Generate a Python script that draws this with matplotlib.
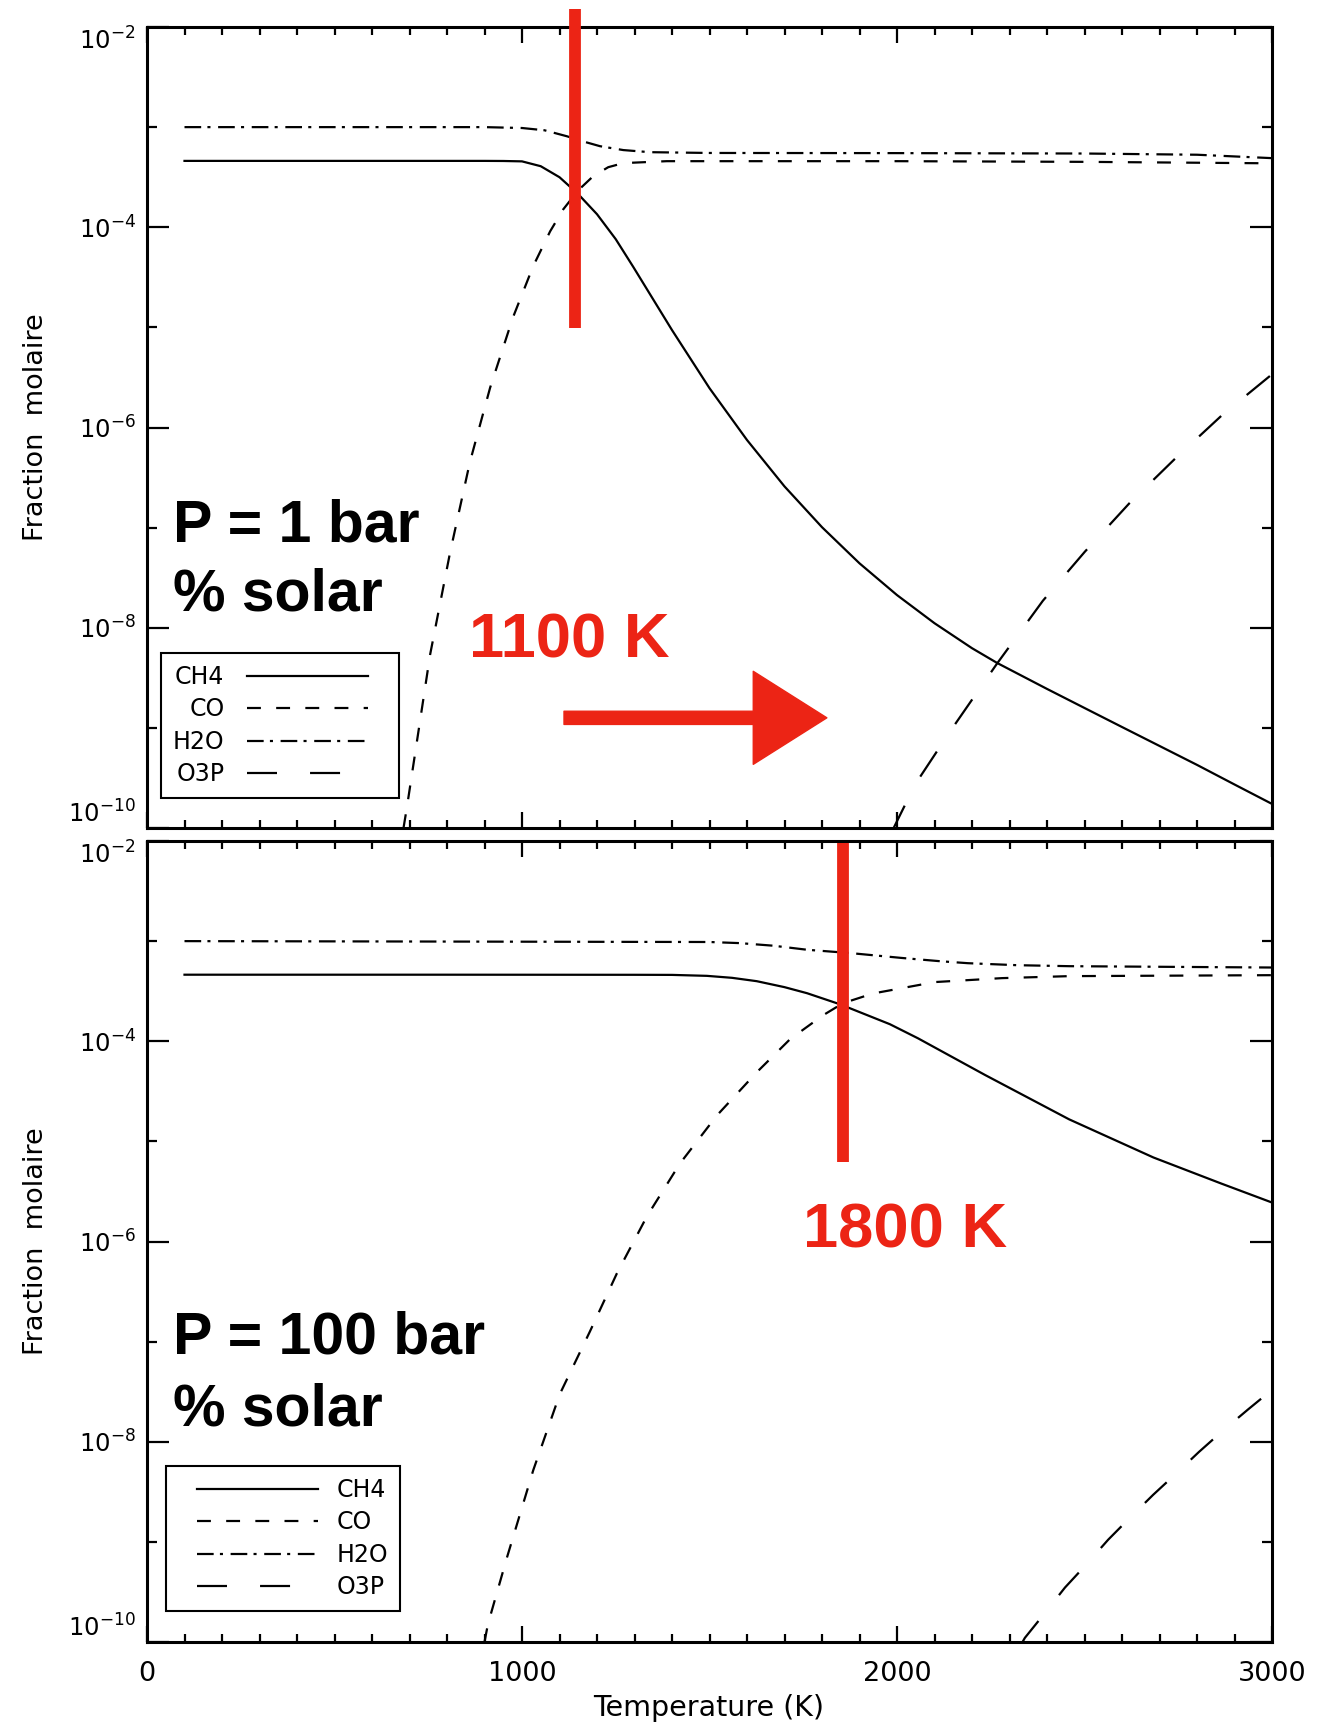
import numpy as np
import matplotlib
matplotlib.use('Agg')
import matplotlib.pyplot as plt
from matplotlib.ticker import FixedLocator, FixedFormatter, NullFormatter
from matplotlib.legend_handler import HandlerLine2D
from matplotlib.lines import Line2D
from matplotlib.patches import FancyArrowPatch

plt.rcParams['font.family'] = ['DejaVu Sans']
plt.rcParams['lines.scale_dashes'] = False
plt.rcParams['mathtext.fontset'] = 'dejavusans'

# ---------------- data : P = 1 bar (mole fractions) ----------------
t_ch4_1 = [100, 500, 900, 950, 1000, 1050, 1100, 1150, 1200, 1250, 1297, 1400, 1500,
           1600, 1700, 1800, 1900, 2000, 2100, 2200, 2267, 2400, 2500, 2600, 2700,
           2800, 2900, 3000]
y_ch4_1 = [4.6e-4, 4.6e-4, 4.6e-4, 4.59e-4, 4.55e-4, 4.07e-4, 3.16e-4, 2.14e-4,
           1.35e-4, 7.6e-5, 4.0e-5, 9.4e-6, 2.47e-6, 7.5e-7, 2.58e-7, 1.01e-7,
           4.4e-8, 2.12e-8, 1.11e-8, 6.25e-9, 4.45e-9, 2.45e-9, 1.58e-9, 1.02e-9,
           6.6e-10, 4.27e-10, 2.72e-10, 1.74e-10]

t_co_1 = [684, 693, 755, 808, 861, 915, 976, 1030, 1075, 1110, 1150, 1190, 1230, 1270,
          1386, 2000, 2500, 3000]
y_co_1 = [1.0e-10, 1.6e-10, 5.4e-9, 5.6e-8, 4.5e-7, 2.5e-6, 1.26e-5, 4.1e-5, 9.1e-5,
          1.51e-4, 2.34e-4, 3.24e-4, 3.98e-4, 4.37e-4, 4.57e-4, 4.57e-4, 4.5e-4, 4.35e-4]

t_h2o_1 = [100, 900, 1000, 1060, 1120, 1160, 1208, 1270, 1341, 1500, 2000, 2500, 2800, 3000]
y_h2o_1 = [1.0e-3, 1.0e-3, 9.8e-4, 9.3e-4, 8.1e-4, 7.25e-4, 6.45e-4, 5.9e-4, 5.62e-4,
           5.52e-4, 5.5e-4, 5.45e-4, 5.3e-4, 4.9e-4]

t_o3p_1 = [1985, 2049, 2144, 2267, 2389, 2501, 2619, 2742, 2866, 3000]
y_o3p_1 = [9.0e-11, 2.75e-10, 9.5e-10, 4.4e-9, 1.86e-8, 5.75e-8, 1.74e-7, 4.9e-7,
           1.32e-6, 3.4e-6]

# ---------------- data : P = 100 bar (mole fractions) ----------------
t_ch4_100 = [100, 781, 1300, 1400, 1493, 1560, 1626, 1700, 1760, 1848, 1981, 2056,
             2115, 2235, 2459, 2684, 2864, 3000]
y_ch4_100 = [4.62e-4, 4.62e-4, 4.61e-4, 4.6e-4, 4.5e-4, 4.3e-4, 3.98e-4, 3.47e-4,
             3.02e-4, 2.34e-4, 1.48e-4, 1.07e-4, 8.1e-5, 4.6e-5, 1.66e-5, 6.9e-6,
             3.8e-6, 2.45e-6]

t_co_100 = [900, 909, 960, 1030, 1101, 1181, 1253, 1333, 1421, 1520, 1626, 1715, 1803,
            1856, 1936, 2101, 2280, 2459, 3000]
y_co_100 = [1.0e-10, 1.5e-10, 7.0e-10, 5.2e-9, 3.0e-8, 1.26e-7, 4.8e-7, 1.78e-6,
            6.0e-6, 1.82e-5, 4.9e-5, 1.05e-4, 1.82e-4, 2.4e-4, 3.0e-4, 3.9e-4,
            4.27e-4, 4.47e-4, 4.57e-4]

t_h2o_100 = [100, 1500, 1581, 1670, 1760, 1875, 2011, 2115, 2189, 2320, 2459, 3000]
y_h2o_100 = [1.0e-3, 9.8e-4, 9.55e-4, 9.0e-4, 8.2e-4, 7.6e-4, 6.8e-4, 6.3e-4, 6.02e-4,
             5.75e-4, 5.62e-4, 5.45e-4]

t_o3p_100 = [2330, 2341, 2392, 2448, 2504, 2563, 2621, 2683, 2744, 2805, 2869, 2936, 3000]
y_o3p_100 = [9.3e-11, 1.1e-10, 1.9e-10, 3.5e-10, 5.9e-10, 1.05e-9, 1.74e-9, 2.95e-9,
             4.8e-9, 7.9e-9, 1.29e-8, 2.1e-8, 3.3e-8]

species = ['CH4', 'CO', 'H2O', 'O3P']

# ticks
x_major = [0, 1000, 2000, 3000]
x_major_labels = ['0', '1000', '2000', '3000']
x_minor = list(range(100, 3000, 100))
y_major = [1e-10, 1e-8, 1e-6, 1e-4, 1e-2]
y_major_labels = [r'$10^{-10}$', r'$10^{-8}$', r'$10^{-6}$', r'$10^{-4}$', r'$10^{-2}$']
y_minor = [1e-9, 1e-7, 1e-5, 1e-3]

# annotations (red marks)
mark_T = [1141, 1856]
mark_span = [(1.5e-2, 9.8e-6), (9.5e-3, 6.2e-6)]
arrow_T = (1112, 1813)
arrow_y = 1.26e-9
panel_titles = ['P = 1 bar', 'P = 100 bar']
trans_labels = ['1100 K', '1800 K']

# ---------------- styles ----------------
W, H = 1329, 1723
RED = '#EC2415'
LW = 1.6
styles = {
    'CH4': dict(linestyle='-'),
    'CO': dict(linestyle=(0, (10.0, 11.0))),
    'H2O': dict(linestyle=(0, (12.0, 4.5, 2.2, 5.5))),
    'O3P': dict(linestyle=(0, (21.6, 23.8))),
}


class InsetLine(HandlerLine2D):
    def __init__(self, f0, f1, **kw):
        super().__init__(**kw)
        self.f0, self.f1 = f0, f1

    def get_xdata(self, legend, xdescent, ydescent, width, height, fontsize):
        x = -xdescent + np.array([self.f0, self.f1]) * width
        return x, x


fig = plt.figure(figsize=(W / 100, H / 100), dpi=100)

def px_axes(l, t, r, b):
    return fig.add_axes([l / W, 1 - b / H, (r - l) / W, (b - t) / H])

ax1 = px_axes(147, 27, 1272, 828)
ax2 = px_axes(147, 841, 1272, 1642)

datasets = [
    (ax1, [(t_ch4_1, y_ch4_1), (t_co_1, y_co_1), (t_h2o_1, y_h2o_1), (t_o3p_1, y_o3p_1)]),
    (ax2, [(t_ch4_100, y_ch4_100), (t_co_100, y_co_100), (t_h2o_100, y_h2o_100),
           (t_o3p_100, y_o3p_100)]),
]

for ax, series in datasets:
    for name, (t, y) in zip(species, series):
        ax.plot(t, y, color='black', lw=LW, label=name, **styles[name])
    ax.set_yscale('log')
    ax.set_xlim(0, 3000)
    ax.set_ylim(1e-10, 1e-2)
    ax.xaxis.set_major_locator(FixedLocator(x_major))
    ax.xaxis.set_minor_locator(FixedLocator(x_minor))
    ax.yaxis.set_major_locator(FixedLocator(y_major))
    ax.yaxis.set_major_formatter(FixedFormatter(y_major_labels))
    ax.yaxis.set_minor_locator(FixedLocator(y_minor))
    ax.yaxis.set_minor_formatter(NullFormatter())
    ax.tick_params(axis='both', which='both', direction='in', top=True, right=True,
                   width=1.6, color='black')
    ax.tick_params(axis='x', which='major', length=11.5, labelsize=19.5, pad=14)
    ax.tick_params(axis='x', which='minor', length=5.8)
    ax.tick_params(axis='y', which='major', length=16, labelsize=17.5, pad=8)
    ax.tick_params(axis='y', which='minor', length=7.5)
    for s in ax.spines.values():
        s.set_linewidth(2.2)
    ticks = ax.yaxis.get_major_ticks()
    ticks[0].label1.set_va('bottom')
    ticks[-1].label1.set_va('top')

ax1.xaxis.set_major_formatter(NullFormatter())
ax2.xaxis.set_major_formatter(FixedFormatter(x_major_labels))

fig.text(709 / W, 1 - 1708 / H, 'Temperature (K)', ha='center', va='center', fontsize=20.5)
for yc in (427.5, 1241.5):
    fig.text(36 / W, 1 - yc / H, 'Fraction  molaire', ha='center', va='center',
             rotation=90, fontsize=19.5)

# legends
leg_kw = dict(loc='upper left', bbox_transform=fig.transFigure, borderaxespad=0,
              fontsize=17, fancybox=False, framealpha=1, edgecolor='black',
              handlelength=5.93, labelspacing=0.36, borderpad=0.5)
l1 = ax1.legend(bbox_to_anchor=(161 / W, 1 - 653 / H), markerfirst=False,
                handletextpad=0.97, handler_map={Line2D: InsetLine(0.0, 0.86)}, **leg_kw)
l2 = ax2.legend(bbox_to_anchor=(166 / W, 1 - 1466 / H), markerfirst=True,
                handletextpad=0.8, handler_map={Line2D: InsetLine(0.14, 1.0)}, **leg_kw)
for lg in (l1, l2):
    lg.get_frame().set_linewidth(1.5)

# big black texts
big = dict(fontsize=42.5, fontweight='bold', family=['Liberation Sans', 'DejaVu Sans'],
           ha='left', va='baseline', color='black')
fig.text(173 / W, 1 - 541 / H, panel_titles[0], **big)
fig.text(173 / W, 1 - 611 / H, '% solar', **big)
fig.text(173 / W, 1 - 1354 / H, panel_titles[1], **big)
fig.text(173 / W, 1 - 1425 / H, '% solar', **big)

# red annotations
red_txt = dict(fontsize=45.5, fontweight='bold', family=['Liberation Sans', 'DejaVu Sans'],
               ha='left', va='baseline', color=RED)
fig.text(469 / W, 1 - 657 / H, trans_labels[0], **red_txt)
fig.text(803 / W, 1 - 1248 / H, trans_labels[1], **red_txt)

for ax, tm, (y0, y1) in zip((ax1, ax2), mark_T, mark_span):
    ax.plot([tm, tm], [y0, y1], color=RED, lw=8.5, solid_capstyle='butt', clip_on=False,
            zorder=5)

arr = FancyArrowPatch((arrow_T[0], arrow_y), (arrow_T[1], arrow_y),
                      arrowstyle='simple,head_length=53,head_width=67,tail_width=9.5',
                      mutation_scale=1, color=RED, shrinkA=0, shrinkB=0, zorder=5,
                      transform=ax1.transData)
ax1.add_patch(arr)

fig.savefig('out.png', dpi=100)
